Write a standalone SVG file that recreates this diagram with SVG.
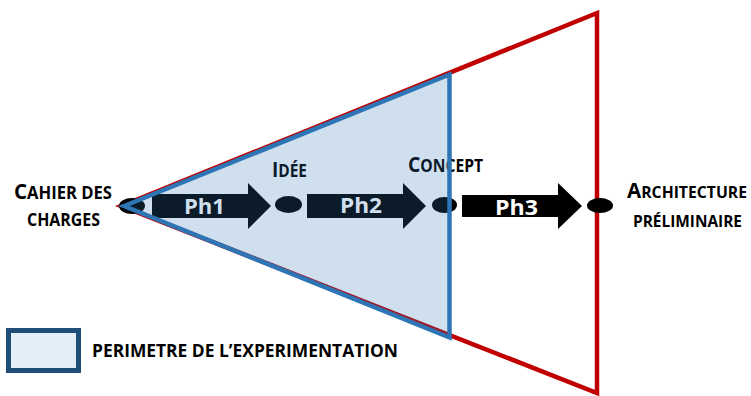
<svg xmlns="http://www.w3.org/2000/svg" width="751" height="396" viewBox="0 0 751 396">
<style>
.lbl{font-family:"Open Sans","Liberation Sans",sans-serif;font-weight:700;fill:#000}
.big{font-size:21px}
.sm{font-size:17px}
.sm2{font-size:16px}
.ph{font-family:"Open Sans","Liberation Sans",sans-serif;font-weight:700;font-size:21px;fill:#fff}
.dot{fill:#000}
.arr{fill:#000}
</style>
<rect width="751" height="396" fill="#fff"/>
<g id="outer-triangle">
<polygon points="121,206 597,13 597,393" fill="#fff" stroke="#C00000" stroke-width="4.5" stroke-linejoin="miter"/>
</g>
<g id="connectors">
<polygon class="arr" points="152,194 248,194 248,183 271,206 248,229 248,218 152,218"/>
<polygon class="arr" points="307,194 403,194 403,183 426,206 403,229 403,218 307,218"/>
<polygon class="arr" points="462,195 558,195 558,183 582,206 558,229 558,217 462,217"/>
<text class="ph" x="184" y="214" textLength="41" lengthAdjust="spacingAndGlyphs">Ph1</text>
<text class="ph" x="340" y="213" textLength="42" lengthAdjust="spacingAndGlyphs">Ph2</text>
<text class="ph" x="495" y="215" textLength="43" lengthAdjust="spacingAndGlyphs">Ph3</text>
</g>
<g id="node-cahier">
<ellipse class="dot" cx="132" cy="206" rx="13" ry="8"/>
<text class="lbl" x="14" y="199" textLength="98" lengthAdjust="spacingAndGlyphs"><tspan class="big">C</tspan><tspan class="sm">AHIER DES</tspan></text>
<text class="lbl sm" x="27" y="226" textLength="73" lengthAdjust="spacingAndGlyphs">CHARGES</text>
</g>
<g id="node-idee">
<ellipse class="dot" cx="288.5" cy="204.5" rx="13.5" ry="8.5"/>
<text class="lbl" x="272" y="177" textLength="35" lengthAdjust="spacingAndGlyphs"><tspan class="big">I</tspan><tspan class="sm">DÉE</tspan></text>
</g>
<g id="node-concept">
<ellipse class="dot" cx="444.5" cy="205" rx="12.5" ry="8"/>
<text class="lbl" x="408" y="172" textLength="75" lengthAdjust="spacingAndGlyphs"><tspan class="big">C</tspan><tspan class="sm">ONCEPT</tspan></text>
</g>
<g id="perimeter">
<polygon points="124,206 449.5,74.5 449.5,337.5" fill="#2E75B6" fill-opacity="0.23" stroke="#2E75B6" stroke-width="4.5" stroke-linejoin="miter"/>
</g>
<g id="node-architecture">
<ellipse class="dot" cx="600" cy="205.5" rx="13" ry="7.5"/>
<text class="lbl" x="627" y="198" textLength="120" lengthAdjust="spacingAndGlyphs"><tspan class="big">A</tspan><tspan class="sm2">RCHITECTURE</tspan></text>
<text class="lbl sm2" x="633" y="227" textLength="109" lengthAdjust="spacingAndGlyphs">PRÉLIMINAIRE</text>
</g>
<g id="legend">
<rect x="8.5" y="330.5" width="70" height="40" fill="#E4EEF8" stroke="#1F4E79" stroke-width="5"/>
<text class="lbl" x="92" y="357" font-size="17.5" textLength="306" lengthAdjust="spacingAndGlyphs">PERIMETRE DE L’EXPERIMENTATION</text>
</g>
</svg>
